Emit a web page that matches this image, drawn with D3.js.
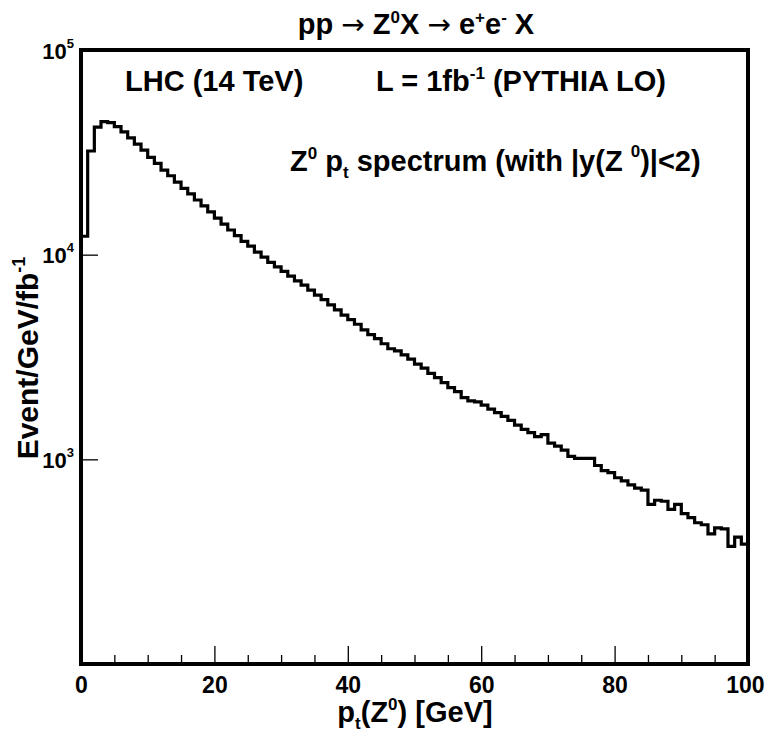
<!DOCTYPE html>
<html>
<head>
<meta charset="utf-8">
<script src="https://cdn.jsdelivr.net/npm/d3@7"></script>
<style>
  body { margin: 0; background: #fff; }
  text { font-family: "Liberation Sans", Arial, sans-serif; font-weight: bold; fill: #000; }
</style>
</head>
<body>
<div id="wrapper"></div>
<script>
// Z0 pt spectrum, 1 GeV bins from 0 to 100 GeV (events / GeV / fb^-1)
const binEdges = d3.range(0, 101);
const counts = [
  12300, 32100, 42000, 44700, 44200, 42200, 39800, 37200, 34700, 32400,
  29900, 27900, 25900, 24300, 22600, 21100, 19800, 18500, 17300, 16200,
  15100, 14100, 13200, 12400, 11600, 11000, 10300, 9730, 9160, 8710,
  8280, 7850, 7450, 7100, 6710, 6350, 6030, 5690, 5370, 5070,
  4820, 4570, 4290, 4070, 3890, 3670, 3470, 3390, 3240, 3090,
  2920, 2790, 2630, 2510, 2370, 2240, 2140, 2000, 1930, 1910,
  1840, 1760, 1690, 1620, 1550, 1470, 1400, 1350, 1290, 1320,
  1200, 1160, 1110, 1035, 1010, 1010, 1010, 933, 881, 861,
  813, 785, 750, 724, 708, 603, 631, 624, 569, 603,
  543, 519, 490, 479, 432, 462, 457, 376, 417, 385
];
const xTickLabels = [0, 20, 40, 60, 80, 100];
const yDecades = [100, 1000, 10000, 100000];

async function drawHistogram() {
  const dimensions = {
    width: 765,
    height: 733,
    margin: { top: 50, right: 17, bottom: 69, left: 81 },
  };
  dimensions.boundleWidth =
    dimensions.width - dimensions.margin.left - dimensions.margin.right;
  dimensions.boundleHeight =
    dimensions.height - dimensions.margin.top - dimensions.margin.bottom;

  const svg = d3.select("#wrapper").append("svg")
    .attr("width", dimensions.width)
    .attr("height", dimensions.height);

  const bounds = svg.append("g")
    .attr("transform", `translate(${dimensions.margin.left},${dimensions.margin.top})`);

  const xScale = d3.scaleLinear().domain([0, 100]).range([0, dimensions.boundleWidth]);
  const yScale = d3.scaleLog().domain([100, 100000]).range([dimensions.boundleHeight, 0]);

  // histogram as a step line
  const points = [[0, 100]].concat(counts.map((c, i) => [binEdges[i], c]));
  points.push([binEdges[100], counts[99]]);
  const lineGenerator = d3.line()
    .x((d) => xScale(d[0]))
    .y((d) => yScale(d[1]))
    .curve(d3.curveStepAfter);

  bounds.append("path")
    .attr("d", lineGenerator(points))
    .attr("fill", "none")
    .attr("stroke", "#000")
    .attr("stroke-width", 3.2)
    .attr("stroke-linejoin", "miter");

  // x ticks (inside)
  const xAxis = bounds.append("g")
    .attr("transform", `translate(0,${dimensions.boundleHeight})`)
    .call(d3.axisBottom(xScale).ticks(20).tickSize(-9).tickFormat(""));
  xAxis.select(".domain").remove();
  xAxis.selectAll(".tick line")
    .attr("stroke-width", 1.3)
    .attr("y2", (d) => (d % 20 === 0 ? -18 : -9));

  xAxis.selectAll(".tick")
    .filter((d) => xTickLabels.includes(d))
    .append("text")
    .attr("y", 29)
    .attr("x", (d) => (d === 100 ? 16 : 0))
    .attr("text-anchor", (d) => (d === 100 ? "end" : "middle"))
    .style("font-size", "23px")
    .text((d) => d);

  // y ticks (inside)
  const yAxis = bounds.append("g")
    .call(d3.axisLeft(yScale).ticks(3).tickSize(-8).tickFormat(""));
  yAxis.select(".domain").remove();
  const isDecade = (d) => yDecades.includes(Math.round(d));
  yAxis.selectAll(".tick line")
    .attr("stroke-width", 1.3)
    .attr("x2", (d) => (isDecade(d) ? 17 : 8));

  const yLab = yAxis.selectAll(".tick")
    .filter((d) => isDecade(d) && Math.round(d) !== 100)
    .append("text")
    .attr("x", -7)
    .attr("y", 8)
    .attr("text-anchor", "end");
  yLab.append("tspan").style("font-size", "22px").text("10");
  yLab.append("tspan")
    .attr("dy", -11)
    .style("font-size", "13px")
    .text((d) => Math.round(Math.log10(d)));

  // frame
  bounds.append("rect")
    .attr("width", dimensions.boundleWidth)
    .attr("height", dimensions.boundleHeight)
    .attr("fill", "none")
    .attr("stroke", "#000")
    .attr("stroke-width", 4);

  // title
  const title = svg.append("text")
    .attr("x", 416)
    .attr("y", 34)
    .attr("text-anchor", "middle")
    .style("font-size", "29px");
  title.append("tspan").text("pp ");
  title.append("tspan").style("font-weight", "normal").style("font-family", "DejaVu Sans").style("font-size", "28px").text("\u2192");
  title.append("tspan").text(" Z");
  title.append("tspan").attr("dy", -11).style("font-size", "17px").text("0");
  title.append("tspan").attr("dy", 11).text("X ");
  title.append("tspan").style("font-weight", "normal").style("font-family", "DejaVu Sans").style("font-size", "28px").text("\u2192");
  title.append("tspan").text(" e");
  title.append("tspan").attr("dy", -11).style("font-size", "17px").text("+");
  title.append("tspan").attr("dy", 11).text("e");
  title.append("tspan").attr("dy", -11).style("font-size", "17px").text("-");
  title.append("tspan").attr("dy", 11).text(" X");

  // annotations
  svg.append("text")
    .attr("x", 125).attr("y", 91)
    .style("font-size", "29px")
    .text("LHC (14 TeV)");

  const lumi = svg.append("text")
    .attr("x", 376).attr("y", 91)
    .style("font-size", "29px");
  lumi.append("tspan").text("L = 1fb");
  lumi.append("tspan").attr("dy", -12).style("font-size", "17px").text("-1");
  lumi.append("tspan").attr("dy", 12).text(" (PYTHIA LO)");

  const spec = svg.append("text")
    .attr("x", 290).attr("y", 171)
    .style("font-size", "29px");
  spec.append("tspan").text("Z");
  spec.append("tspan").attr("dy", -12).style("font-size", "17px").text("0");
  spec.append("tspan").attr("dy", 12).text(" p");
  spec.append("tspan").attr("dy", 7).style("font-size", "17px").text("t");
  spec.append("tspan").attr("dy", -7).text(" spectrum (with |y(Z ");
  spec.append("tspan").attr("dy", -14).style("font-size", "17px").text("0");
  spec.append("tspan").attr("dy", 14).text(")|<2)");

  // axis titles
  const xTitle = svg.append("text")
    .attr("x", 415).attr("y", 722)
    .attr("text-anchor", "middle")
    .style("font-size", "29px");
  xTitle.append("tspan").text("p");
  xTitle.append("tspan").attr("dy", 7).style("font-size", "17px").text("t");
  xTitle.append("tspan").attr("dy", -7).text("(Z");
  xTitle.append("tspan").attr("dy", -12).style("font-size", "17px").text("0");
  xTitle.append("tspan").attr("dy", 12).text(") [GeV]");

  const yTitle = svg.append("text")
    .attr("transform", "translate(38,358) rotate(-90)")
    .attr("text-anchor", "middle")
    .style("font-size", "30px");
  yTitle.append("tspan").text("Event/GeV/fb");
  yTitle.append("tspan").attr("dy", -13).style("font-size", "18px").text("-1");
}

drawHistogram();
</script>
</body>
</html>
